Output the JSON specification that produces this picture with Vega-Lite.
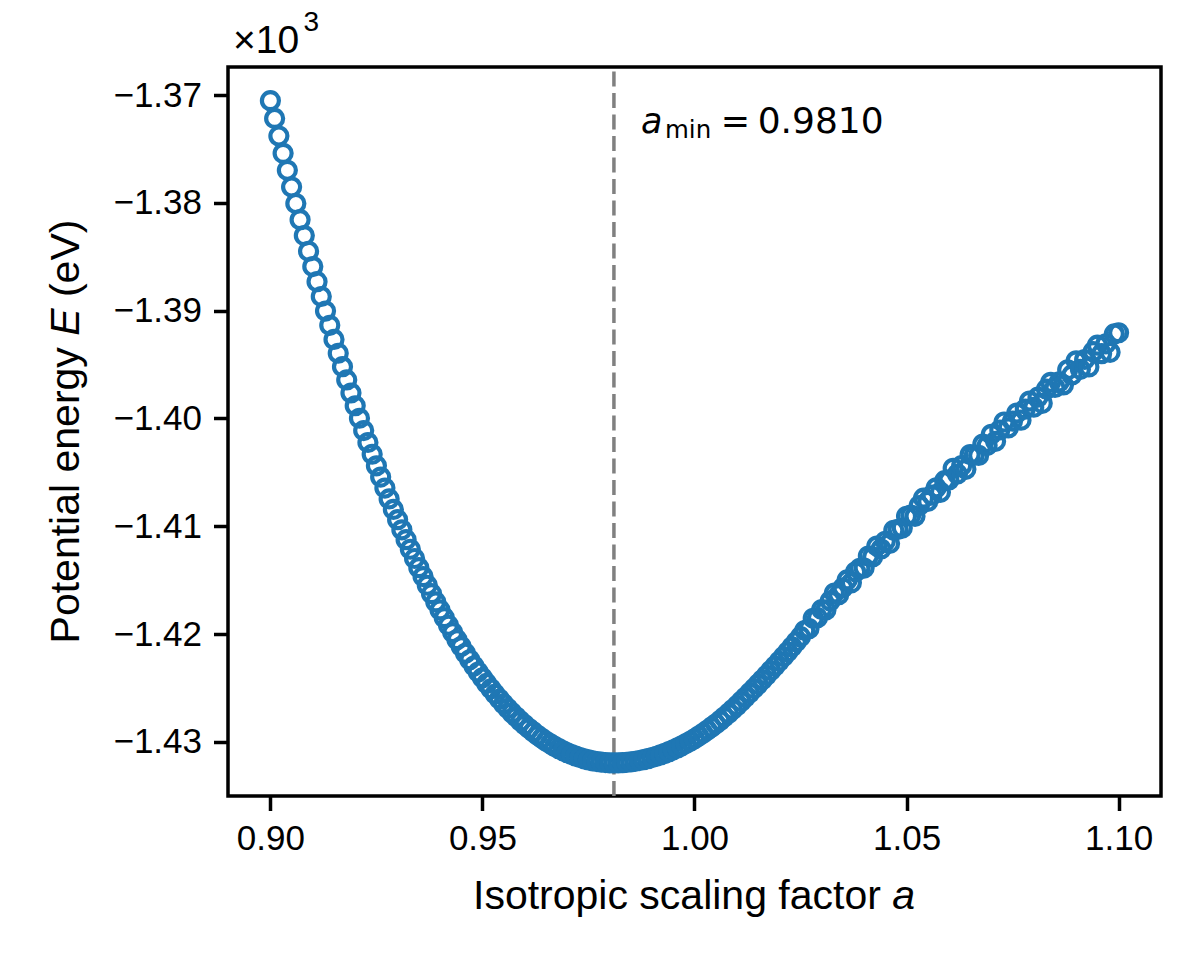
{
  "$schema": "https://vega.github.io/schema/vega-lite/v6.json",
  "width": 933,
  "height": 729,
  "autosize": {"type": "none"},
  "padding": {"left": 228, "top": 67, "right": 39, "bottom": 164},
  "background": "white",
  "config": {"view": {"stroke": "black", "strokeWidth": 3.5}},
  "encoding": {
    "x": {
      "field": "a", "type": "quantitative",
      "scale": {"domain": [0.89, 1.11], "nice": false, "zero": false},
      "axis": {
        "values": [0.9, 0.95, 1.0, 1.05, 1.1], "format": ".2f", "title": null,
        "domain": false, "grid": false, "tickSize": 14.5, "tickWidth": 3.5, "tickColor": "black",
        "labelFont": "Liberation Sans", "labelFontSize": 35, "labelColor": "black", "labelPadding": 11,
        "labelFlush": false, "labelOverlap": false
      }
    },
    "y": {
      "field": "E", "type": "quantitative",
      "scale": {"domain": [-1435.02, -1367.40], "nice": false, "zero": false},
      "axis": {
        "values": [-1430, -1420, -1410, -1400, -1390, -1380, -1370], "title": null,
        "labelExpr": "replace(format(datum.value / 1000, '.2f'), '-', '\u2212')",
        "domain": false, "grid": false, "tickSize": 14.5, "tickWidth": 3.5, "tickColor": "black",
        "labelFont": "Liberation Sans", "labelFontSize": 35, "labelColor": "black", "labelPadding": 12,
        "labelFlush": false, "labelOverlap": false
      }
    }
  },
  "layer": [
    {
      "data": {"values": [{"a": 0.981, "E": -1435.02, "E2": -1367.40}]},
      "mark": {"type": "rule", "color": "#808080", "strokeWidth": 3.5, "strokeDash": [15, 6.5]},
      "encoding": {"y2": {"field": "E2"}}
    },
    {
      "data": {"values": [
        {"a":0.900,"E":-1370.52},{"a":0.901,"E":-1372.17},{"a":0.902,"E":-1373.80},{"a":0.903,"E":-1375.41},{"a":0.904,"E":-1376.98},
        {"a":0.905,"E":-1378.53},{"a":0.906,"E":-1380.06},{"a":0.907,"E":-1381.56},{"a":0.908,"E":-1383.04},{"a":0.909,"E":-1384.49},
        {"a":0.910,"E":-1385.91},{"a":0.911,"E":-1387.31},{"a":0.912,"E":-1388.69},{"a":0.913,"E":-1390.04},{"a":0.914,"E":-1391.36},
        {"a":0.915,"E":-1392.67},{"a":0.916,"E":-1393.95},{"a":0.917,"E":-1395.20},{"a":0.918,"E":-1396.43},{"a":0.919,"E":-1397.64},
        {"a":0.920,"E":-1398.82},{"a":0.921,"E":-1399.98},{"a":0.922,"E":-1401.12},{"a":0.923,"E":-1402.23},{"a":0.924,"E":-1403.32},
        {"a":0.925,"E":-1404.39},{"a":0.926,"E":-1405.44},{"a":0.927,"E":-1406.46},{"a":0.928,"E":-1407.46},{"a":0.929,"E":-1408.44},
        {"a":0.930,"E":-1409.39},{"a":0.931,"E":-1410.33},{"a":0.932,"E":-1411.24},{"a":0.933,"E":-1412.13},{"a":0.934,"E":-1412.99},
        {"a":0.935,"E":-1413.84},{"a":0.936,"E":-1414.67},{"a":0.937,"E":-1415.47},{"a":0.938,"E":-1416.25},{"a":0.939,"E":-1417.02},
        {"a":0.940,"E":-1417.76},{"a":0.941,"E":-1418.48},{"a":0.942,"E":-1419.18},{"a":0.943,"E":-1419.86},{"a":0.944,"E":-1420.52},
        {"a":0.945,"E":-1421.16},{"a":0.946,"E":-1421.78},{"a":0.947,"E":-1422.38},{"a":0.948,"E":-1422.96},{"a":0.949,"E":-1423.52},
        {"a":0.950,"E":-1424.06},{"a":0.951,"E":-1424.58},{"a":0.952,"E":-1425.08},{"a":0.953,"E":-1425.57},{"a":0.954,"E":-1426.03},
        {"a":0.955,"E":-1426.48},{"a":0.956,"E":-1426.90},{"a":0.957,"E":-1427.31},{"a":0.958,"E":-1427.70},{"a":0.959,"E":-1428.08},
        {"a":0.960,"E":-1428.43},{"a":0.961,"E":-1428.77},{"a":0.962,"E":-1429.08},{"a":0.963,"E":-1429.39},{"a":0.964,"E":-1429.67},
        {"a":0.965,"E":-1429.94},{"a":0.966,"E":-1430.18},{"a":0.967,"E":-1430.42},{"a":0.968,"E":-1430.63},{"a":0.969,"E":-1430.83},
        {"a":0.970,"E":-1431.01},{"a":0.971,"E":-1431.18},{"a":0.972,"E":-1431.33},{"a":0.973,"E":-1431.46},{"a":0.974,"E":-1431.57},
        {"a":0.975,"E":-1431.67},{"a":0.976,"E":-1431.76},{"a":0.977,"E":-1431.83},{"a":0.978,"E":-1431.88},{"a":0.979,"E":-1431.92},
        {"a":0.980,"E":-1431.94},{"a":0.981,"E":-1431.95},{"a":0.982,"E":-1431.94},{"a":0.983,"E":-1431.93},{"a":0.984,"E":-1431.90},
        {"a":0.985,"E":-1431.85},{"a":0.986,"E":-1431.80},{"a":0.987,"E":-1431.73},{"a":0.988,"E":-1431.65},{"a":0.989,"E":-1431.56},
        {"a":0.990,"E":-1431.46},{"a":0.991,"E":-1431.34},{"a":0.992,"E":-1431.21},{"a":0.993,"E":-1431.07},{"a":0.994,"E":-1430.91},
        {"a":0.995,"E":-1430.74},{"a":0.996,"E":-1430.56},{"a":0.997,"E":-1430.37},{"a":0.998,"E":-1430.16},{"a":0.999,"E":-1429.94},
        {"a":1.000,"E":-1429.71},{"a":1.001,"E":-1429.46},{"a":1.002,"E":-1429.20},{"a":1.003,"E":-1428.93},{"a":1.004,"E":-1428.64},
        {"a":1.005,"E":-1428.34},{"a":1.006,"E":-1428.03},{"a":1.007,"E":-1427.70},{"a":1.008,"E":-1427.36},{"a":1.009,"E":-1427.00},
        {"a":1.010,"E":-1426.64},{"a":1.011,"E":-1426.25},{"a":1.012,"E":-1425.86},{"a":1.013,"E":-1425.46},{"a":1.014,"E":-1425.06},
        {"a":1.015,"E":-1424.65},{"a":1.016,"E":-1424.24},{"a":1.017,"E":-1423.82},{"a":1.018,"E":-1423.39},{"a":1.019,"E":-1422.96},
        {"a":1.020,"E":-1422.53},{"a":1.021,"E":-1422.09},{"a":1.022,"E":-1421.64},{"a":1.023,"E":-1421.18},{"a":1.024,"E":-1420.71},
        {"a":1.025,"E":-1420.24},{"a":1.026,"E":-1419.67},{"a":1.027,"E":-1419.50},{"a":1.028,"E":-1418.54},{"a":1.029,"E":-1418.48},
        {"a":1.030,"E":-1417.72},{"a":1.031,"E":-1417.77},{"a":1.032,"E":-1416.93},{"a":1.033,"E":-1416.19},{"a":1.034,"E":-1416.35},
        {"a":1.035,"E":-1415.71},{"a":1.036,"E":-1414.98},{"a":1.037,"E":-1415.25},{"a":1.038,"E":-1414.23},{"a":1.039,"E":-1413.90},
        {"a":1.040,"E":-1413.88},{"a":1.041,"E":-1412.76},{"a":1.042,"E":-1412.84},{"a":1.043,"E":-1411.83},{"a":1.044,"E":-1412.11},
        {"a":1.045,"E":-1411.40},{"a":1.046,"E":-1411.59},{"a":1.047,"E":-1410.38},{"a":1.048,"E":-1410.28},{"a":1.049,"E":-1410.17},
        {"a":1.050,"E":-1409.07},{"a":1.051,"E":-1408.97},{"a":1.052,"E":-1409.08},{"a":1.053,"E":-1408.08},{"a":1.054,"E":-1407.39},
        {"a":1.055,"E":-1407.70},{"a":1.056,"E":-1407.12},{"a":1.057,"E":-1406.43},{"a":1.058,"E":-1406.85},{"a":1.059,"E":-1405.77},
        {"a":1.060,"E":-1405.70},{"a":1.061,"E":-1404.62},{"a":1.062,"E":-1405.15},{"a":1.063,"E":-1404.38},{"a":1.064,"E":-1404.72},
        {"a":1.065,"E":-1403.35},{"a":1.066,"E":-1403.39},{"a":1.067,"E":-1403.43},{"a":1.068,"E":-1402.38},{"a":1.069,"E":-1402.52},
        {"a":1.070,"E":-1401.47},{"a":1.071,"E":-1402.12},{"a":1.072,"E":-1401.07},{"a":1.073,"E":-1400.33},{"a":1.074,"E":-1400.88},
        {"a":1.075,"E":-1400.24},{"a":1.076,"E":-1399.50},{"a":1.077,"E":-1400.16},{"a":1.078,"E":-1399.13},{"a":1.079,"E":-1398.39},
        {"a":1.080,"E":-1398.96},{"a":1.081,"E":-1398.03},{"a":1.082,"E":-1398.60},{"a":1.083,"E":-1397.28},{"a":1.084,"E":-1396.65},
        {"a":1.085,"E":-1397.13},{"a":1.086,"E":-1396.61},{"a":1.087,"E":-1396.89},{"a":1.088,"E":-1395.48},{"a":1.089,"E":-1395.96},
        {"a":1.090,"E":-1394.65},{"a":1.091,"E":-1395.44},{"a":1.092,"E":-1394.53},{"a":1.093,"E":-1395.22},{"a":1.094,"E":-1393.81},
        {"a":1.095,"E":-1393.20},{"a":1.096,"E":-1393.99},{"a":1.097,"E":-1393.08},{"a":1.098,"E":-1393.87},{"a":1.099,"E":-1392.16},
        {"a":1.100,"E":-1392.05}
      ]},
      "mark": {"type": "point", "shape": "circle", "filled": false, "color": "#1f77b4", "strokeWidth": 4.2, "size": 289, "opacity": 1}
    },
    {
      "data": {"values": [{"t": "Isotropic scaling factor", "a": 0.94777, "E": -1445.53}]},
      "mark": {"type": "text", "font": "Liberation Sans", "fontSize": 41, "align": "left", "baseline": "alphabetic", "color": "black"},
      "encoding": {"text": {"field": "t"}}
    },
    {
      "data": {"values": [{"t": "a", "a": 1.04664, "E": -1445.53}]},
      "mark": {"type": "text", "font": "Liberation Sans", "fontSize": 41, "fontStyle": "italic", "align": "left", "baseline": "alphabetic", "color": "black"},
      "encoding": {"text": {"field": "t"}}
    },
    {
      "data": {"values": [{"t": "Potential energy", "a": 0.85487, "E": -1420.87}, {"t": "(eV)", "a": 0.85487, "E": -1388.74}]},
      "mark": {"type": "text", "font": "Liberation Sans", "fontSize": 41, "angle": 270, "align": "left", "baseline": "alphabetic", "color": "black"},
      "encoding": {"text": {"field": "t"}}
    },
    {
      "data": {"values": [{"t": "E", "a": 0.85487, "E": -1392.33}]},
      "mark": {"type": "text", "font": "Liberation Sans", "fontSize": 41, "fontStyle": "italic", "angle": 270, "align": "left", "baseline": "alphabetic", "color": "black"},
      "encoding": {"text": {"field": "t"}}
    },
    {
      "data": {"values": [{"t": "\u00d710", "a": 0.89118, "E": -1366.13}]},
      "mark": {"type": "text", "font": "Liberation Sans", "fontSize": 39, "align": "left", "baseline": "alphabetic", "color": "black"},
      "encoding": {"text": {"field": "t"}}
    },
    {
      "data": {"values": [{"t": "3", "a": 0.90780, "E": -1364.06}]},
      "mark": {"type": "text", "font": "Liberation Sans", "fontSize": 28, "align": "left", "baseline": "alphabetic", "color": "black"},
      "encoding": {"text": {"field": "t"}}
    },
    {
      "data": {"values": [{"t": "a", "a": 0.98738, "E": -1373.52}]},
      "mark": {"type": "text", "font": "DejaVu Sans", "fontSize": 35, "fontStyle": "italic", "align": "left", "baseline": "alphabetic", "color": "black"},
      "encoding": {"text": {"field": "t"}}
    },
    {
      "data": {"values": [{"t": "min", "a": 0.99304, "E": -1374.03}]},
      "mark": {"type": "text", "font": "DejaVu Sans", "fontSize": 24.5, "align": "left", "baseline": "alphabetic", "color": "black"},
      "encoding": {"text": {"field": "t"}}
    },
    {
      "data": {"values": [{"t": "=", "a": 1.00967, "E": -1373.52}]},
      "mark": {"type": "text", "font": "DejaVu Sans", "fontSize": 35, "align": "center", "baseline": "alphabetic", "color": "black"},
      "encoding": {"text": {"field": "t"}}
    },
    {
      "data": {"values": [{"t": "0.9810", "a": 1.0149, "E": -1373.52}]},
      "mark": {"type": "text", "font": "DejaVu Sans", "fontSize": 36, "align": "left", "baseline": "alphabetic", "color": "black"},
      "encoding": {"text": {"field": "t"}}
    }
  ]
}
